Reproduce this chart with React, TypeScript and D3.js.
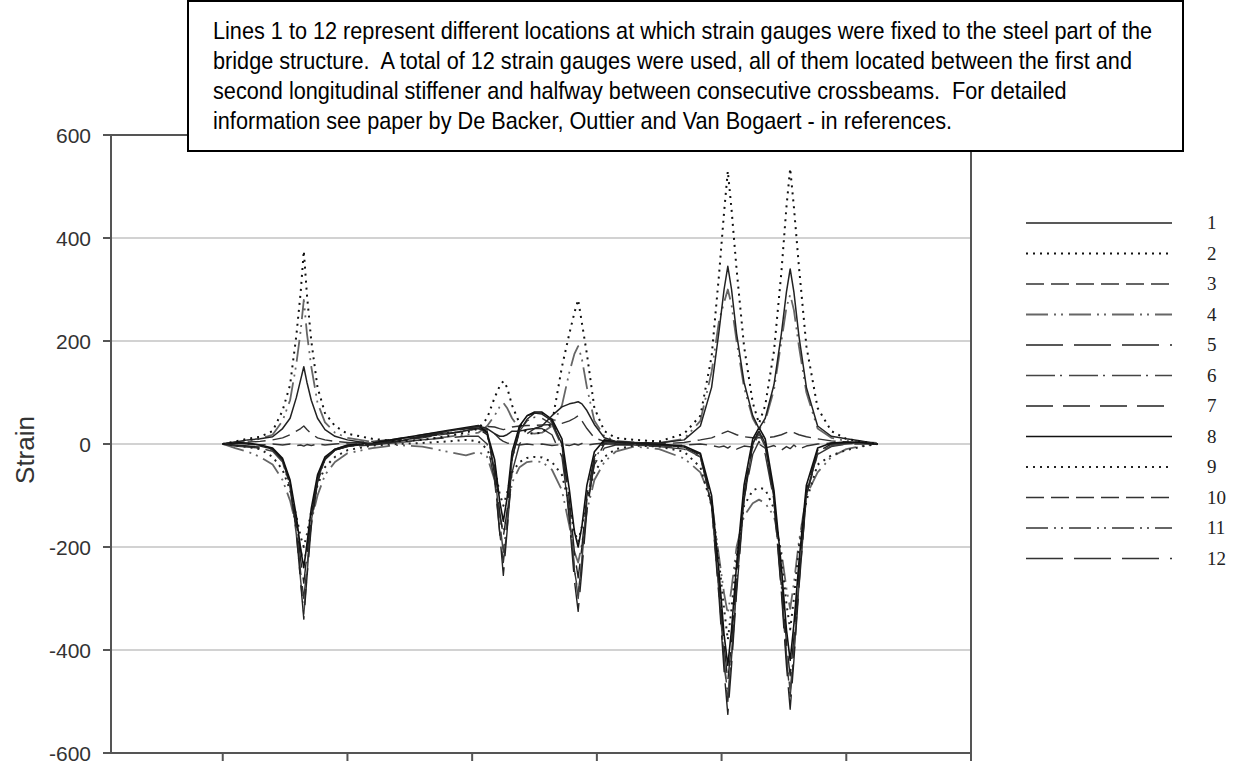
import React from 'react';
import * as d3 from 'd3';

// time positions (arbitrary units; ticks every 10)
const xGrid = [10, 11, 12, 13, 14, 14.8, 15.4, 15.9, 16.25, 16.5, 16.75, 17.1, 17.6, 18.2, 19, 20, 22, 24, 26, 28, 29.5, 30.5, 31.2, 31.8, 32.2, 32.5, 32.8, 33.2, 33.8, 34.4, 35, 35.6, 36.4, 37.2, 37.8, 38.2, 38.5, 38.8, 39.2, 39.8, 40.6, 41.5, 43, 45, 47, 48.3, 49.2, 49.8, 50.2, 50.5, 50.8, 51.2, 51.8, 52.5, 53, 53.5, 54.2, 54.8, 55.2, 55.5, 55.8, 56.2, 56.8, 57.7, 58.8, 60, 61.2, 62.5];

const s1 = [0, 4, 8, 10, 14, 30, 50, 90, 125, 150, 120, 85, 50, 28, 15, 8, 0, 5, 15, 25, 30, 35, 30, 20, 15, 15, 18, 25, 25, 28, 30, 35, 55, 72, 78, 80, 82, 78, 65, 38, 12, 5, 3, 2, 8, 35, 110, 220, 300, 345, 300, 215, 120, 55, 30, 50, 115, 215, 295, 340, 295, 210, 110, 35, 15, 10, 6, 0];
const s2 = [0, 5, 10, 14, 25, 65, 115, 210, 295, 375, 290, 200, 110, 60, 35, 20, 10, 5, 8, 15, 22, 30, 50, 90, 112, 122, 110, 75, 40, 22, 20, 22, 40, 150, 215, 255, 280, 235, 175, 70, 25, 12, 8, 5, 20, 55, 170, 330, 450, 530, 455, 340, 190, 80, 40, 75, 180, 335, 460, 535, 460, 345, 190, 70, 25, 10, 5, 0];
const s3 = [0, 2, 4, 5, 8, 12, 18, 25, 30, 35, 28, 20, 12, 8, 5, 3, 0, 5, 12, 20, 26, 32, 34, 33, 30, 28, 30, 33, 35, 36, 36, 37, 38, 40, 45, 50, 55, 45, 30, 12, 5, 2, 0, 0, 3, 8, 12, 18, 22, 25, 22, 18, 14, 12, 12, 12, 14, 18, 22, 25, 22, 18, 14, 10, 6, 4, 3, 0];
const s4 = [0, 3, 6, 10, 18, 45, 85, 155, 220, 280, 215, 150, 80, 42, 22, 12, 4, 2, 8, 14, 18, 22, 35, 55, 72, 80, 70, 50, 30, 22, 20, 22, 35, 75, 140, 175, 190, 165, 110, 45, 15, 6, 3, 2, 10, 45, 140, 240, 275, 300, 270, 200, 110, 50, 28, 45, 105, 200, 265, 290, 260, 190, 100, 30, 12, 6, 4, 2];
const s5 = [0, -2, -4, -6, -10, -30, -80, -170, -270, -340, -260, -160, -75, -30, -12, -5, 0, 8, 15, 22, 30, 30, 25, -60, -170, -255, -170, -30, 30, 55, 60, 58, 45, 0, -150, -265, -325, -245, -130, -35, 0, 0, 0, -2, -5, -20, -120, -300, -440, -525, -430, -290, -110, 0, 25, 0, -110, -290, -430, -515, -420, -280, -100, -15, 0, 2, 3, 0];
const s6 = [0, -3, -5, -8, -14, -35, -85, -175, -265, -330, -255, -150, -70, -28, -10, -3, 2, 10, 18, 25, 30, 32, 20, -50, -150, -210, -150, -30, 25, 45, 52, 50, 38, -5, -130, -240, -300, -225, -110, -30, 2, 3, 0, -3, -8, -25, -120, -290, -420, -490, -410, -270, -100, -5, 20, -5, -105, -275, -410, -480, -400, -265, -95, -18, -3, 0, 2, 0];
const s7 = [0, 2, 0, -4, -10, -30, -75, -150, -225, -270, -215, -140, -65, -28, -12, -4, 0, 6, 14, 20, 26, 30, 18, -40, -130, -180, -130, -25, 25, 48, 60, 60, 42, 0, -110, -210, -260, -200, -100, -25, 5, 4, 0, -2, -6, -22, -110, -270, -390, -460, -385, -255, -95, 0, 28, 0, -100, -260, -385, -450, -375, -250, -90, -12, 0, 3, 2, 0];
const s8 = [0, 3, 2, -2, -8, -28, -70, -140, -205, -240, -195, -125, -60, -25, -10, -2, 2, 10, 18, 26, 32, 36, 22, -30, -110, -150, -105, -15, 35, 55, 62, 62, 48, 10, -90, -170, -200, -160, -80, -15, 8, 5, 2, 0, -4, -18, -100, -250, -370, -430, -360, -235, -80, 10, 32, 10, -90, -240, -360, -420, -350, -230, -80, -8, 2, 4, 3, 0];
const s9 = [0, -3, -6, -10, -25, -50, -90, -140, -180, -200, -175, -130, -80, -45, -25, -12, -3, 0, 2, 5, 8, 5, -10, -45, -95, -120, -95, -55, -35, -27, -25, -26, -35, -60, -120, -170, -190, -160, -105, -55, -25, -10, -3, -5, -15, -45, -120, -230, -320, -380, -320, -220, -120, -90, -85, -88, -125, -220, -310, -360, -300, -200, -110, -40, -22, -12, -5, 0];
const s10 = [0, 2, 0, -2, 0, -2, 0, -3, -2, -4, -1, -3, 0, -2, 0, 2, 5, 10, 15, 20, 25, 30, 28, 20, 10, 5, 2, 0, -2, 0, -2, 0, -3, -1, -3, 0, -2, 1, -2, 0, 2, 0, -2, -4, -2, 0, -3, -6, -4, -8, -3, -10, -4, -6, 0, -8, -3, -12, -5, -9, -2, -10, -4, 0, 2, 3, 2, 0];
const s11 = [0, -8, -15, -25, -40, -70, -110, -160, -205, -230, -200, -150, -100, -60, -35, -18, -8, -2, -5, -15, -22, -15, -25, -70, -140, -170, -135, -75, -45, -35, -33, -35, -50, -90, -160, -210, -230, -195, -130, -70, -35, -15, -5, -10, -28, -55, -110, -220, -290, -330, -280, -200, -140, -115, -108, -115, -140, -210, -280, -320, -270, -190, -100, -55, -25, -10, -4, 0];
const s12 = [0, -4, -6, -8, -12, -32, -80, -165, -250, -300, -240, -150, -70, -30, -12, -5, -2, 3, 8, 12, 15, 15, 0, -70, -170, -230, -165, -55, 0, 20, 30, 30, 18, -25, -140, -245, -290, -230, -120, -40, -8, -2, -2, -5, -10, -25, -115, -285, -420, -500, -415, -280, -105, -20, 5, -20, -110, -280, -415, -490, -410, -275, -100, -20, -5, 0, 0, 0];

const seriesValues = [s1, s2, s3, s4, s5, s6, s7, s8, s9, s10, s11, s12];
const seriesNames = ['1', '2', '3', '4', '5', '6', '7', '8', '9', '10', '11', '12'];
const yTicks = [600, 400, 200, 0, -200, -400, -600];
const xTicks = [10, 20, 30, 40, 50, 60, 70];
const noteLines = [
  'Lines 1 to 12 represent different locations at which strain gauges were fixed to the steel part of the',
  'bridge structure.  A total of 12 strain gauges were used, all of them located between the first and',
  'second longitudinal stiffener and halfway between consecutive crossbeams.  For detailed',
  'information see paper by De Backer, Outtier and Van Bogaert - in references.',
];

// styles (separate from data)
const dashes = ['none', '2,5', '18,7', '22,6,2,5,2,6', '37,11', '29,5,2,7', '27,10', 'none', '2,5', '18,7', '22,6,2,5,2,6', '37,11'];
const colors = ['#222', '#111', '#333', '#666', '#222', '#444', '#222', '#111', '#222', '#333', '#666', '#333'];
const widths = [1.5, 2, 1.4, 1.8, 1.4, 1.5, 1.4, 1.6, 2, 1.4, 1.8, 1.4];
const drawOrder = [10, 3, 2, 9, 11, 5, 6, 4, 8, 7, 0, 1];

export default function App() {
  const W = 1239, H = 765;
  const left = 111, right = 971, top = 135, bottom = 753;
  const x = d3.scaleLinear().domain([1.04, 70]).range([left, right]);
  const y = d3.scaleLinear().domain([-600, 600]).range([bottom, top]);
  const line = d3.line<number>().x((_, i) => x(xGrid[i])).y((d) => y(d));

  return (
    <svg width={W} height={H} style={{ position: 'absolute', left: 0, top: 0, background: '#fff' }}>
      <rect x={0} y={0} width={W} height={H} fill="#fff" />
      {yTicks.filter((t) => t !== 600 && t !== -600).map((t) => (
        <line key={'g' + t} x1={left} x2={right} y1={y(t)} y2={y(t)} stroke="#d2d2d2" strokeWidth={2} />
      ))}
      {drawOrder.map((k) => (
        <path key={'s' + k} d={line(seriesValues[k]) || ''} fill="none" stroke={colors[k]}
          strokeWidth={widths[k]} strokeDasharray={dashes[k]} strokeLinejoin="round" />
      ))}
      {/* frame */}
      <rect x={left} y={top} width={right - left} height={bottom - top} fill="none" stroke="#555" strokeWidth={2} />
      {yTicks.map((t) => (
        <g key={'yt' + t}>
          <line x1={left - 8} x2={left} y1={y(t)} y2={y(t)} stroke="#555" strokeWidth={2} />
          <text x={91} y={y(t)} dy="0.36em" textAnchor="end" fontFamily="'Liberation Sans', Arial, sans-serif" fontSize={21} fill="#333">{t}</text>
        </g>
      ))}
      {xTicks.map((t) => (
        <line key={'xt' + t} x1={x(t)} x2={x(t)} y1={bottom} y2={bottom + 8} stroke="#555" strokeWidth={2} />
      ))}
      <text transform={`translate(34,450) rotate(-90)`} textAnchor="middle" fontFamily="'Liberation Sans', Arial, sans-serif" fontSize={26} fill="#333">Strain</text>
      {/* legend */}
      {seriesNames.map((n, i) => {
        const ly = 223 + 30.5 * i;
        return (
          <g key={'l' + n}>
            <line x1={1026} x2={1172} y1={ly} y2={ly} stroke={colors[i]} strokeWidth={widths[i]} strokeDasharray={dashes[i]} />
            <text x={1207} y={ly + 6} fontFamily="'Liberation Serif', 'Times New Roman', serif" fontSize={19} fill="#222">{n}</text>
          </g>
        );
      })}
      {/* note box */}
      <rect x={188} y={1} width={995} height={150} fill="#fff" stroke="#000" strokeWidth={2} />
      {noteLines.map((t, i) => (
        <text key={'n' + i} transform={`translate(213,${39 + 30 * i}) scale(0.903,1)`}
          style={{ whiteSpace: 'pre' }}
          fontFamily="'Liberation Sans', Arial, sans-serif" fontSize={24} fill="#000">{t}</text>
      ))}
    </svg>
  );
}
